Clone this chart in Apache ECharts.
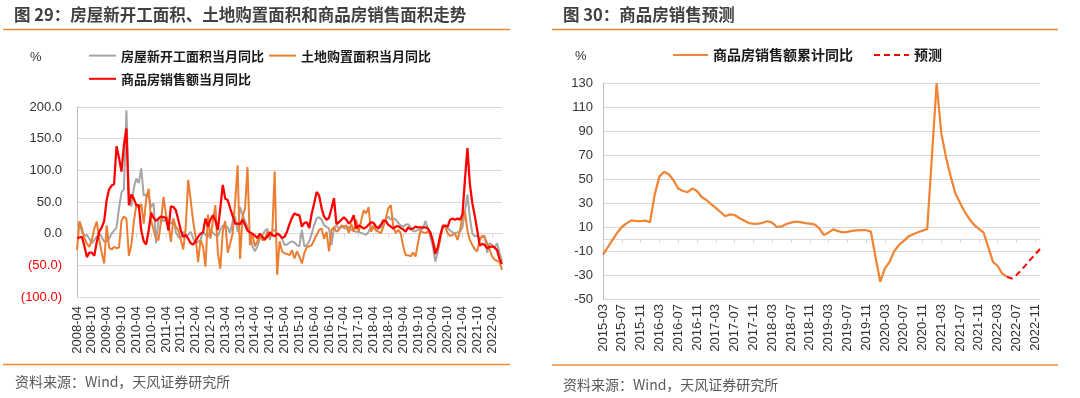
<!DOCTYPE html>
<html>
<head>
<meta charset="utf-8">
<script src="https://cdn.jsdelivr.net/npm/echarts@6/dist/echarts.min.js"></script>
<style>
html,body{margin:0;padding:0;background:#fff;}
#main{width:1080px;height:398px;}
</style>
</head>
<body>
<div id="main"></div>
<script>
// 月份序列
function monthRange(y0, m0, y1, m1) {
  var out = [];
  var y = y0, m = m0;
  while (y < y1 || (y === y1 && m <= m1)) {
    out.push(y + '-' + (m < 10 ? '0' + m : m));
    m++;
    if (m > 12) { m = 1; y++; }
  }
  return out;
}
// 图29 类目 2008-04 ~ 2022-08
var monthsL = monthRange(2008, 4, 2022, 8);
// 房屋新开工面积当月同比
var newStart = [
  14,16,3,-4,-2,-8,-15,-10,-5,0,
  -5,-13,-12,-8,0,5,10,40,65,70,
  195,55,43,72,87,80,103,60,62,58,
  42,48,-15,22,27,19,24,18,16,22,
  2,-5,-7,3,-4,-2,3,-7,-15,-13,
  -10,3,-2,-5,6,1,-2,-4,6,13,
  13,10,1,20,27,3,42,30,20,11,
  1,-20,-28,-20,-8,-2,4,8,-10,4,
  6,0,-2,-8,-18,-17,-14,-12,-14,-18,
  -20,6,-20,-18,-12,0,14,24,26,22,
  13,11,8,-18,10,13,8,11,9,8,
  11,6,4,3,3,1,0,-2,3,11,
  12,6,8,10,16,22,27,22,24,22,
  17,13,11,14,15,10,4,4,6,7,
  8,20,8,-5,-20,-44,-30,-5,9,11,
  9,5,2,1,2,4,10,35,62,25,
  0,-4,-3,-9,-5,-3,-30,-15,-18,-22,
  -15,-30,-44
];
// 土地购置面积当月同比
var landBuy = [
  -26,20,8,-7,-16,-21,-10,8,19,-10,
  -30,-47,13,-22,-25,-21,-23,-22,20,27,
  24,-35,-18,19,45,40,47,16,55,71,
  20,6,-8,-10,20,58,30,16,-13,24,
  11,5,-10,-25,10,85,53,20,-5,-45,
  -10,-20,-52,30,-8,20,45,-30,-55,3,
  20,-30,-15,0,50,108,-40,27,40,105,
  -18,0,-20,-12,-5,-10,-10,3,-5,0,
  98,-65,-12,-28,-31,-32,-34,-26,-39,-28,
  -36,-47,-31,-21,-20,-18,-10,-2,6,8,
  -8,3,-28,6,10,3,6,13,11,13,
  1,16,3,22,3,20,37,32,42,3,
  11,5,3,1,11,25,40,45,11,1,
  6,1,-20,-34,-34,-36,-30,-36,-15,5,
  2,1,3,1,-10,-24,-25,-10,14,11,
  1,-4,-2,0,-10,5,27,35,5,-10,
  -18,-25,-28,-10,-3,-7,-15,-25,-36,-41,
  -43,-45,-57
];
// 商品房销售额当月同比
var salesMonth = [
  -7,-6,-5,-20,-37,-30,-30,-35,-13,3,
  10,20,53,70,76,78,138,120,98,140,
  166,45,62,55,45,45,5,-12,-17,5,
  33,25,20,24,27,26,25,5,43,42,
  37,22,5,-5,-2,-8,-15,-17,-12,-5,
  0,2,24,11,22,29,21,6,40,77,
  55,53,40,28,16,16,15,22,14,5,
  2,0,-3,-7,0,-5,-9,-5,2,-2,
  -4,0,-2,-7,-5,3,15,25,32,30,
  29,11,17,18,9,32,48,66,60,40,
  27,22,25,40,56,15,18,22,26,22,
  16,20,29,8,13,11,8,10,14,18,
  17,11,9,14,21,20,14,11,8,11,
  12,9,7,3,10,7,8,11,10,10,
  10,10,8,2,-12,-32,-22,-3,11,13,
  11,22,24,22,24,22,30,85,135,78,
  48,28,5,-19,-16,-18,-23,-21,-20,-22,
  -26,-40,-48
];

// 图30 类目 2015-03 ~ 2022-12
var monthsR = monthRange(2015, 3, 2022, 12);
// 商品房销售额累计同比
var salesCum = [
  -13,-7,-1,5,10,13,15.5,15,15,15.3,
  14,37,52,56,54,49,42,40,39,42,
  40,35,32.5,29,26,22.5,19,20.5,20,17.5,
  15.5,13.3,12.7,12.8,13.5,14.8,13.7,10,10.5,12.5,
  13.7,14.4,14,13.3,12.8,12.2,9,3.3,5.5,8,
  6.5,5.6,6,6.8,7.2,7.4,7.3,6.2,-15,-35.6,
  -24.5,-19,-10,-5,-1.5,2,4,5.6,7,8.3,
  69,130,88,68,52,38,30,22.5,16.5,11.7,
  8.5,5.3,-7,-19,-22.5,-29,-31.5
];
// 预测（2022-05 起）
var forecastStart = 86;
var forecastVals = [-31.5,-33,-30,-26,-21.5,-17,-12.7,-8.3];
var forecast = [];
for (var k = 0; k < monthsR.length; k++) {
  forecast.push(k >= forecastStart ? forecastVals[k - forecastStart] : null);
}

var NUM = '"Liberation Sans", "Noto Sans CJK SC", sans-serif';
var CJK = '"Noto Sans CJK SC", sans-serif';
var GRIDC = '#d9d9d9';

var myChart = echarts.init(document.getElementById('main'));
myChart.setOption({
  animation: false,
  textStyle: { fontFamily: NUM },
  grid: [
    { left: 77, top: 107, width: 425, height: 190 },
    { left: 603, top: 83, width: 437, height: 216 }
  ],
  legend: [
    {
      left: 88, top: 46, width: 350, padding: 0, itemGap: 4,
      itemWidth: 27, itemHeight: 24,
      itemStyle: { opacity: 0 },
      data: ['房屋新开工面积当月同比', '土地购置面积当月同比', '商品房销售额当月同比'],
      textStyle: { fontFamily: CJK, fontSize: 13, fontWeight: 'bold', color: '#1a1a1a' }
    },
    {
      left: 672, top: 48, padding: 0, itemGap: 20,
      itemWidth: 35, itemHeight: 14,
      itemStyle: { opacity: 0 },
      data: ['商品房销售额累计同比', '预测'],
      textStyle: { fontFamily: CJK, fontSize: 14, fontWeight: 'bold', color: '#1a1a1a' }
    }
  ],
  xAxis: [
    {
      gridIndex: 0, type: 'category', data: monthsL, boundaryGap: false, position: 'bottom',
      axisLine: { show: false, onZero: false }, axisTick: { show: false },
      axisLabel: { interval: 5, rotate: 90, fontSize: 13, color: '#333', margin: 9 }
    },
    {
      gridIndex: 0, type: 'category', data: monthsL, boundaryGap: false, position: 'bottom',
      axisLine: { onZero: true, lineStyle: { color: GRIDC } },
      axisTick: { interval: 5, length: 4, lineStyle: { color: GRIDC } },
      axisLabel: { show: false }
    },
    {
      gridIndex: 1, type: 'category', data: monthsR, boundaryGap: false, position: 'bottom',
      axisLine: { show: false, onZero: false }, axisTick: { show: false },
      axisLabel: { interval: 3, rotate: 90, fontSize: 13, color: '#333', margin: 5 }
    },
    {
      gridIndex: 1, type: 'category', data: monthsR, boundaryGap: false, position: 'bottom',
      axisLine: { onZero: true, lineStyle: { color: GRIDC } },
      axisTick: { interval: 3, length: 4, lineStyle: { color: GRIDC } },
      axisLabel: { show: false }
    }
  ],
  yAxis: [
    {
      gridIndex: 0, type: 'value', min: -100, max: 200, interval: 50,
      axisLine: { show: true, lineStyle: { color: '#bfbfbf' } },
      axisTick: { show: false },
      splitLine: { lineStyle: { color: GRIDC } },
      axisLabel: {
        fontSize: 13, margin: 15,
        formatter: function (v) { return v < 0 ? '(' + (-v).toFixed(1) + ')' : v.toFixed(1); },
        color: function (v) { return v < 0 ? '#ff0000' : '#333'; }
      }
    },
    {
      gridIndex: 1, type: 'value', min: -50, max: 130, interval: 20,
      axisLine: { show: true, lineStyle: { color: '#bfbfbf' } },
      axisTick: { show: false },
      splitLine: { lineStyle: { color: GRIDC } },
      axisLabel: { fontSize: 13, margin: 10, color: '#333' }
    }
  ],
  series: [
    {
      name: '房屋新开工面积当月同比', type: 'line', xAxisIndex: 0, yAxisIndex: 0,
      data: newStart, symbol: 'none', lineStyle: { color: '#a5a5a5', width: 2 }, itemStyle: { color: '#a5a5a5' }
    },
    {
      name: '土地购置面积当月同比', type: 'line', xAxisIndex: 0, yAxisIndex: 0,
      data: landBuy, symbol: 'none', lineStyle: { color: '#ed7d31', width: 2 }, itemStyle: { color: '#ed7d31' }
    },
    {
      name: '商品房销售额当月同比', type: 'line', xAxisIndex: 0, yAxisIndex: 0,
      data: salesMonth, symbol: 'none', lineStyle: { color: '#ff0000', width: 2.25 }, itemStyle: { color: '#ff0000' }
    },
    {
      name: '商品房销售额累计同比', type: 'line', xAxisIndex: 2, yAxisIndex: 1,
      data: salesCum, symbol: 'none', lineStyle: { color: '#ef8535', width: 2.25 }, itemStyle: { color: '#ef8535' }
    },
    {
      name: '预测', type: 'line', xAxisIndex: 2, yAxisIndex: 1,
      data: forecast, symbol: 'none', lineStyle: { color: '#ff0000', width: 2, type: [6, 4] }, itemStyle: { color: '#ff0000' }
    }
  ],
  graphic: [
    // 标题
    { type: 'text', x: 14, y: 15, style: { text: '图 29：房屋新开工面积、土地购置面积和商品房销售面积走势', font: 'bold 16.5px ' + CJK, fill: '#404040', verticalAlign: 'middle' } },
    { type: 'text', x: 563, y: 15, style: { text: '图 30：商品房销售预测', font: 'bold 16.5px ' + CJK, fill: '#404040', verticalAlign: 'middle' } },
    { type: 'line', shape: { x1: 3, y1: 29.5, x2: 510, y2: 29.5 }, style: { stroke: '#f0883a', lineWidth: 1.5 } },
    { type: 'line', shape: { x1: 552, y1: 29.5, x2: 1058, y2: 29.5 }, style: { stroke: '#f0883a', lineWidth: 1.5 } },
    // 单位
    { type: 'text', x: 30, y: 57, style: { text: '%', font: '13px ' + NUM, fill: '#333', verticalAlign: 'middle' } },
    { type: 'text', x: 575, y: 56, style: { text: '%', font: '13px ' + NUM, fill: '#333', verticalAlign: 'middle' } },
    // 资料来源
    { type: 'line', shape: { x1: 3, y1: 364.5, x2: 510, y2: 364.5 }, style: { stroke: '#f0883a', lineWidth: 1.5 } },
    { type: 'line', shape: { x1: 552, y1: 365, x2: 1058, y2: 365 }, style: { stroke: '#f0883a', lineWidth: 1.5 } },
    { type: 'text', x: 15, y: 382, style: { text: '资料来源：Wind，天风证券研究所', font: '14px ' + CJK, fill: '#595959', verticalAlign: 'middle' } },
    { type: 'text', x: 563, y: 385, style: { text: '资料来源：Wind，天风证券研究所', font: '14px ' + CJK, fill: '#595959', verticalAlign: 'middle' } }
  ]
});
</script>
</body>
</html>
